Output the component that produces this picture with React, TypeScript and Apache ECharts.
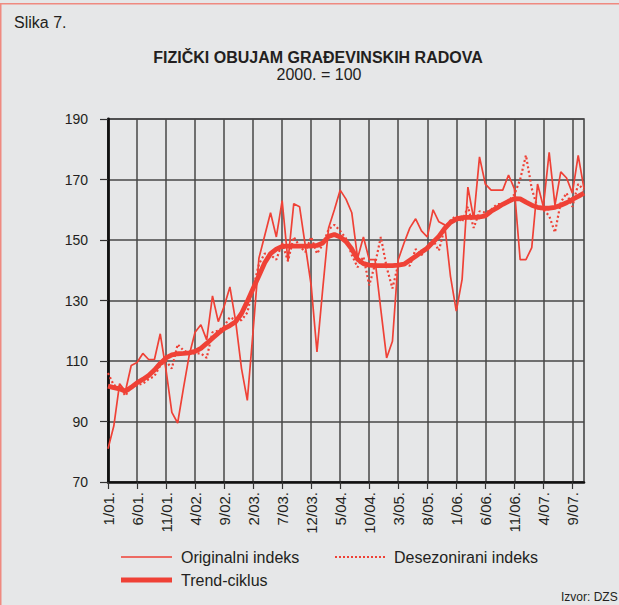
import React, { useEffect, useRef } from "react";
import * as echarts from "echarts";

const categories = [
  "1/01.", "2/01.", "3/01.", "4/01.", "5/01.", "6/01.", "7/01.", "8/01.", "9/01.", "10/01.", "11/01.", "12/01.",
  "1/02.", "2/02.", "3/02.", "4/02.", "5/02.", "6/02.", "7/02.", "8/02.", "9/02.", "10/02.", "11/02.", "12/02.",
  "1/03.", "2/03.", "3/03.", "4/03.", "5/03.", "6/03.", "7/03.", "8/03.", "9/03.", "10/03.", "11/03.", "12/03.",
  "1/04.", "2/04.", "3/04.", "4/04.", "5/04.", "6/04.", "7/04.", "8/04.", "9/04.", "10/04.", "11/04.", "12/04.",
  "1/05.", "2/05.", "3/05.", "4/05.", "5/05.", "6/05.", "7/05.", "8/05.", "9/05.", "10/05.", "11/05.", "12/05.",
  "1/06.", "2/06.", "3/06.", "4/06.", "5/06.", "6/06.", "7/06.", "8/06.", "9/06.", "10/06.", "11/06.", "12/06.",
  "1/07.", "2/07.", "3/07.", "4/07.", "5/07.", "6/07.", "7/07.", "8/07.", "9/07.", "10/07.", "11/07.",
];

const originalIndex = [
  81, 88.5, 102.5, 100, 108.5, 109.5, 112.5, 110.5, 110.5, 119,
  107, 93, 89.5, 101, 112, 119.5, 122, 117, 131.5, 123,
  128, 134.5, 123, 107.5, 97, 120, 144, 151.5, 159, 151,
  163, 143, 162, 161, 148, 135, 113, 134, 154, 160,
  166.5, 163.5, 159, 144, 151, 143.5, 143.5, 127, 111, 116.5,
  143.5, 149, 154, 157, 153, 151, 160, 156, 155, 138,
  126.5, 137, 167.5, 157, 177.5, 168.5, 166.5, 166.5, 166.5, 171.5,
  167, 143.5, 143.5, 147.5, 168.5, 161, 179, 161.5, 172.5, 170.5,
  165.5, 178, 167,
];

const deseasonalizedIndex = [
  106, 102, 101.5, 98.5, 101.5, 102, 102.5, 104, 105, 108.5,
  110, 107.5, 115.5, 113.5, 112.5, 112.5, 112.5, 111, 119.5, 120,
  121.5, 124.5, 123.5, 123.5, 126, 134, 142, 145.5, 145, 143.5,
  149, 143, 151, 148, 146, 151, 145.5, 148.5, 153.5, 155,
  153, 150.5, 145, 141, 144.5, 135, 142, 151, 141, 134,
  142, 142, 141.5, 147, 145, 148, 150, 146.5, 154, 156.5,
  158, 156, 161, 154, 159.5, 159, 160, 161.8, 162, 163,
  165, 170, 178, 167, 160.5, 160, 158, 152.5, 162.5, 165.5,
  161, 168.5, 166.5,
];

const trendCycle = [
  101.7, 101.2, 100.8, 100, 101.3, 102.8, 103.9, 105.2, 107, 109.2,
  111, 112, 112.4, 112.5, 112.7, 113.2, 114.2, 115.8, 117.5, 119.2,
  120.7, 121.7, 123, 125.7, 129.7, 134, 138.2, 142.5, 145.5, 147,
  147.9, 148, 148, 148, 148, 148, 148.2, 149, 151.2, 151.8,
  151, 149.5, 147, 143.6, 142.2, 141.7, 141.5, 141.5, 141.5, 141.5,
  141.7, 142, 143.3, 144.6, 146, 147.3, 149.3, 151.2, 153.8, 155.8,
  156.9, 157.4, 157.5, 157.5, 157.6, 158, 159.5, 160.6, 161.8, 162.8,
  163.7, 163.6, 162.5, 161.5, 160.8, 160.5, 160.5, 160.8, 161.5, 162.3,
  163.4, 164.4, 165.5,
];

const Y_MIN = 70;
const Y_MAX = 190;
const Y_STEP = 20;
const LABEL_EVERY = 5;

const seriesNames = ["Originalni indeks", "Desezonirani indeks", "Trend-ciklus"];
const titleText = "FIZIČKI OBUJAM GRAĐEVINSKIH RADOVA";
const subtitleText = "2000. = 100";

export default function App() {
  const ref = useRef<HTMLDivElement>(null);
  useEffect(() => {
    if (!ref.current) return;
    const chart = echarts.init(ref.current, null, { renderer: "svg" });
    const RED = "#ef4136";
    const FONT = "'Liberation Sans', Arial, Helvetica, sans-serif";
    const TXT = "#231f20";
    const GRID = "#474747";
    const txt = (text: string, x: number, y: number, size: number, opts: any = {}) => ({
      type: "text",
      silent: true,
      z: 100,
      style: {
        text,
        x,
        y,
        fill: TXT,
        fontSize: size,
        fontFamily: FONT,
        fontWeight: opts.bold ? "bold" : "normal",
        align: opts.align || "left",
        textAlign: opts.align || "left",
        verticalAlign: "middle",
        textVerticalAlign: "middle",
      },
    });
    chart.setOption({
      animation: false,
      backgroundColor: "#e6e7e8",
      textStyle: { fontFamily: FONT },
      grid: {
        left: 108,
        right: 35,
        top: 119,
        bottom: 123,
        show: true,
        borderColor: GRID,
        borderWidth: 1.6,
        backgroundColor: "transparent",
      },
      xAxis: {
        type: "category",
        data: categories,
        boundaryGap: false,
        axisLine: { show: true, lineStyle: { color: "#111", width: 2.6 } },
        axisTick: {
          show: true,
          interval: LABEL_EVERY - 1,
          length: 7,
          lineStyle: { color: "#333", width: 1.2 },
        },
        axisLabel: {
          interval: LABEL_EVERY - 1,
          rotate: 90,
          margin: 10,
          fontSize: 15,
          color: TXT,
          fontFamily: FONT,
        },
        splitLine: {
          show: true,
          interval: LABEL_EVERY - 1,
          lineStyle: { color: GRID, width: 1.5 },
        },
      },
      yAxis: {
        type: "value",
        min: Y_MIN,
        max: Y_MAX,
        interval: Y_STEP,
        axisLine: { show: true, lineStyle: { color: "#111", width: 2.8 } },
        axisTick: { show: true, length: 8, lineStyle: { color: "#333", width: 1.2 } },
        axisLabel: { margin: 20, fontSize: 14, color: TXT, fontFamily: FONT },
        splitLine: { show: true, lineStyle: { color: GRID, width: 1.5 } },
      },
      series: [
        {
          name: seriesNames[0],
          type: "line",
          data: originalIndex,
          symbol: "none",
          lineStyle: { color: RED, width: 1.7 },
          z: 3,
        },
        {
          name: seriesNames[1],
          type: "line",
          data: deseasonalizedIndex,
          symbol: "none",
          lineStyle: { color: RED, width: 2.2, type: [2, 2.5] },
          z: 4,
        },
        {
          name: seriesNames[2],
          type: "line",
          data: trendCycle,
          symbol: "none",
          lineStyle: { color: RED, width: 4.8 },
          z: 5,
        },
      ],
      graphic: [
        {
          type: "rect",
          silent: true,
          z: 100,
          shape: { x: 0.75, y: 3.75, width: 660, height: 660 },
          style: { fill: "none", stroke: "#ef8a80", lineWidth: 1.5 },
        },
        txt("Slika 7.", 14, 22, 16),
        txt(titleText, 318, 57, 16, { bold: true, align: "center" }),
        txt(subtitleText, 319, 74, 16, { align: "center" }),
        {
          type: "line",
          silent: true,
          z: 100,
          shape: { x1: 121, y1: 557, x2: 172, y2: 557 },
          style: { stroke: RED, lineWidth: 1.7 },
        },
        txt(seriesNames[0], 181, 557, 16),
        {
          type: "line",
          silent: true,
          z: 100,
          shape: { x1: 335, y1: 557, x2: 386, y2: 557 },
          style: { stroke: RED, lineWidth: 2, lineDash: [2, 2] },
        },
        txt(seriesNames[1], 394, 557, 16),
        {
          type: "line",
          silent: true,
          z: 100,
          shape: { x1: 121, y1: 580, x2: 172, y2: 580 },
          style: { stroke: RED, lineWidth: 4.8 },
        },
        txt(seriesNames[2], 181, 580, 16),
        txt("Izvor: DZS", 561, 597, 12),
      ],
    });
    return () => chart.dispose();
  }, []);
  return (
    <div
      ref={ref}
      style={{ position: "fixed", left: 0, top: 0, width: 619, height: 605 }}
    />
  );
}
